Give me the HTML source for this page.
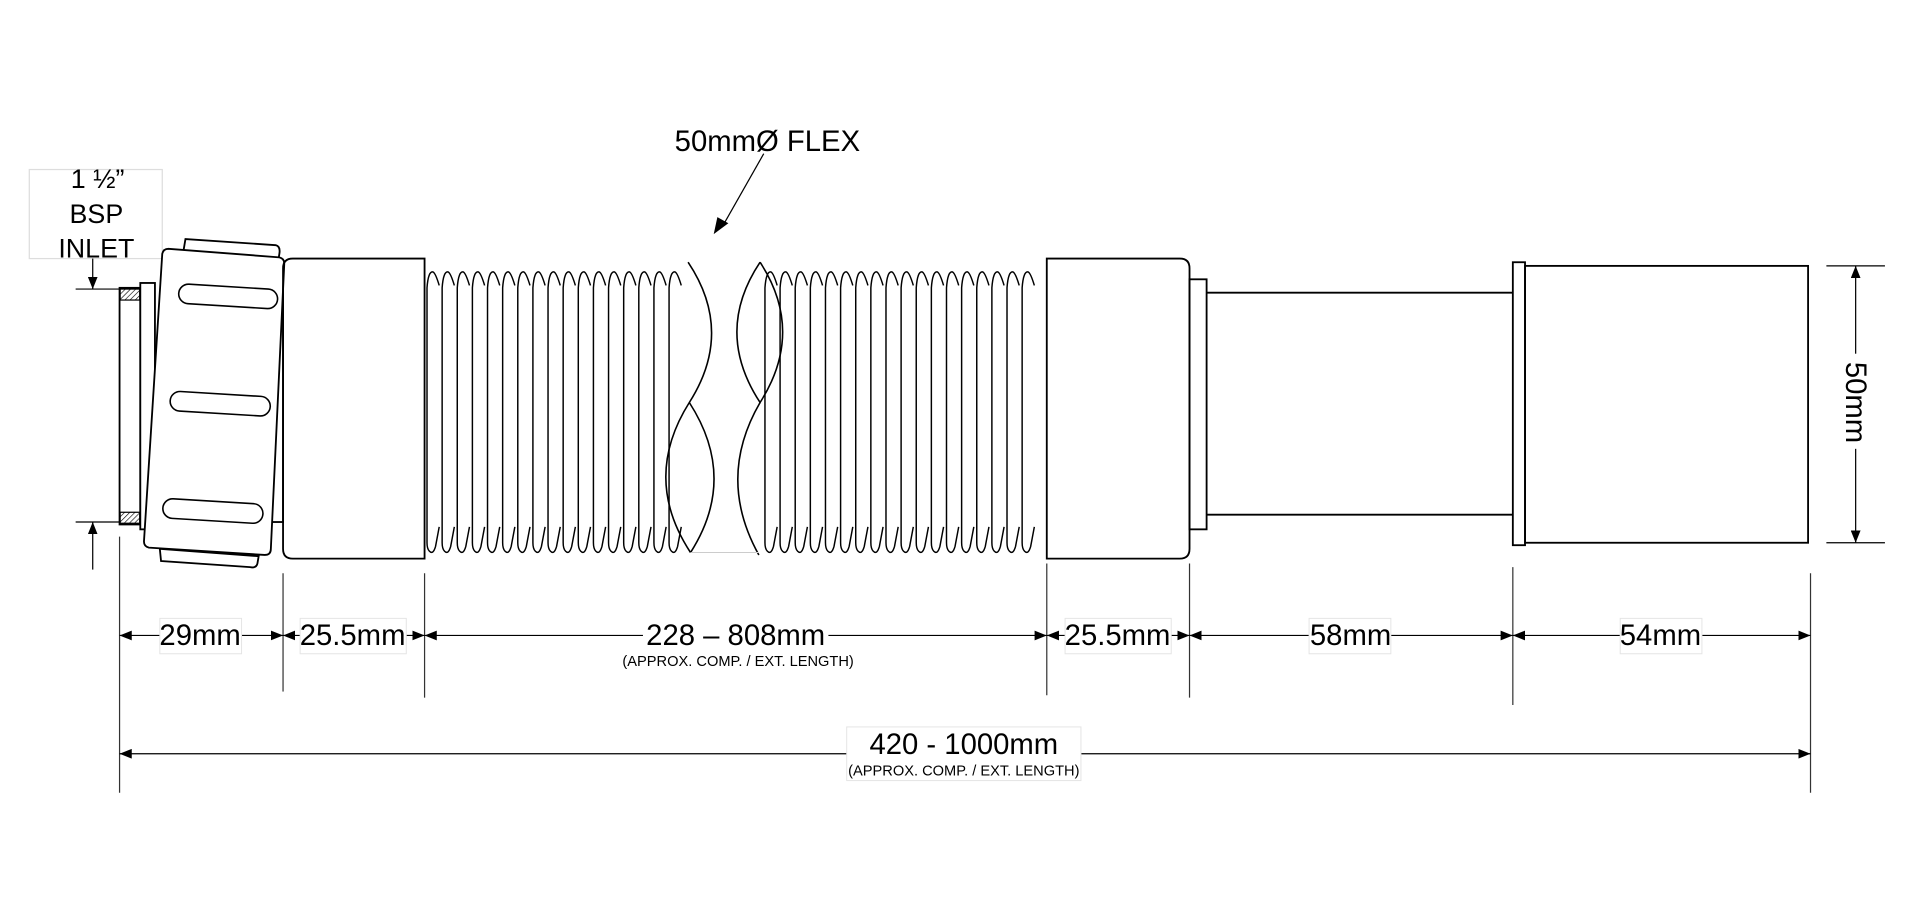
<!DOCTYPE html>
<html><head><meta charset="utf-8"><style>
html,body{margin:0;padding:0;background:#fff;width:1913px;height:905px;overflow:hidden}
svg{display:block}
text{font-family:"Liberation Sans",sans-serif;fill:#000}
</style></head><body>
<svg id="s" width="1913" height="905" viewBox="0 0 1568 742" preserveAspectRatio="none" xmlns="http://www.w3.org/2000/svg">
<defs>
<marker id="a" viewBox="0 0 10 8" refX="10" refY="4" markerWidth="10" markerHeight="8" markerUnits="userSpaceOnUse" orient="auto-start-reverse"><path d="M0,0L10,4L0,8z" fill="#000"/></marker>
<pattern id="h" width="3" height="3" patternUnits="userSpaceOnUse" patternTransform="rotate(45)"><line x1="0" y1="0" x2="0" y2="3" stroke="#000" stroke-width="1"/></pattern>
</defs>
<g fill="none" stroke="#000" stroke-width="1.5">
<line x1="626" y1="126" x2="592" y2="186" stroke-width="1"/>
<path d="M585,192 L588,178 L597,183z" fill="#000" stroke="none"/>
<rect x="24" y="139" width="109" height="73" stroke="#ddd" stroke-width="1"/>
<line x1="62" y1="237" x2="98" y2="237" stroke-width="1"/>
<line x1="62" y1="428" x2="98" y2="428" stroke-width="1"/>
<line x1="76" y1="212" x2="76" y2="237" stroke-width="1" marker-end="url(#a)"/>
<line x1="76" y1="467" x2="76" y2="428" stroke-width="1" marker-end="url(#a)"/>
<rect x="98" y="236" width="17" height="194"/>
<rect x="98.5" y="237" width="16" height="9" fill="url(#h)" stroke-width="1"/>
<rect x="98.5" y="420" width="16" height="9" fill="url(#h)" stroke-width="1"/>
<rect x="115" y="232" width="12" height="202" fill="#fff"/>
<path d="M152,196 L226,201 Q230,202 229,208 L228,214 L150,208 Z" fill="#fff"/>
<path d="M131,450 L212,456 L211,462 Q210,466 205,465 L132,460 Z" fill="#fff"/>
<rect x="220" y="213" width="12" height="215" fill="#fff"/>
<path d="M138,204 L229,211 Q233,212 233,216 L222,450 Q222,455 217,455 L122,449 Q118,448 118,444 L133,208 Q134,204 138,204 Z" fill="#fff"/>
<g stroke-width="1.3">
<path d="M155,233 L220,237 A8,8 0 0 1 219,253 L154,249 A8,8 0 0 1 155,233 Z"/>
<path d="M148,321 L214,325 A8,8 0 0 1 213,341 L147,337 A8,8 0 0 1 148,321 Z"/>
<path d="M142,409 L208,413 A8,8 0 0 1 207,429 L141,425 A8,8 0 0 1 142,409 Z"/>
</g>
<path d="M240,212 L348,212 L348,458 L240,458 Q232,458 232,450 L232,220 Q232,212 240,212 Z"/>
<g id="ribs" stroke-width="1.2"></g>
<g stroke-width="1.3">
<path d="M564,215 Q602,272 565,330 Q526,392 566,453"/>
<path d="M565,330 Q605,392 566,453"/>
<path d="M623,215 Q585,272 623,330 Q660,272 623,215"/>
<path d="M623,330 Q587,392 622,455"/>
<line x1="566" y1="453" x2="622" y2="453" stroke="#ccc" stroke-width="0.8"/>
</g>
<path d="M858,212 L967,212 Q975,212 975,220 L975,450 Q975,458 967,458 L858,458 Z" fill="#fff"/>
<rect x="975" y="229" width="14" height="205"/>
<line x1="989" y1="240" x2="1240" y2="240"/>
<line x1="989" y1="422" x2="1240" y2="422"/>
<rect x="1240" y="215" width="10" height="232"/>
<rect x="1250" y="218" width="232" height="227"/>
<g stroke-width="1">
<line x1="1497" y1="218" x2="1545" y2="218"/>
<line x1="1497" y1="445" x2="1545" y2="445"/>
<line x1="1521" y1="290" x2="1521" y2="218" marker-end="url(#a)"/>
<line x1="1521" y1="365" x2="1521" y2="445" marker-end="url(#a)"/>
</g>
<g stroke-width="1" stroke="#333">
<line x1="98" y1="440" x2="98" y2="650"/>
<line x1="232" y1="470" x2="232" y2="567"/>
<line x1="348" y1="470" x2="348" y2="572"/>
<line x1="858" y1="462" x2="858" y2="570"/>
<line x1="975" y1="462" x2="975" y2="572"/>
<line x1="1240" y1="465" x2="1240" y2="578"/>
<line x1="1484" y1="470" x2="1484" y2="650"/>
</g>
<g stroke-width="1">
<line x1="98" y1="521" x2="232" y2="521" marker-start="url(#a)" marker-end="url(#a)"/>
<line x1="232" y1="521" x2="348" y2="521" marker-start="url(#a)" marker-end="url(#a)"/>
<line x1="348" y1="521" x2="858" y2="521" marker-start="url(#a)" marker-end="url(#a)"/>
<line x1="858" y1="521" x2="975" y2="521" marker-start="url(#a)" marker-end="url(#a)"/>
<line x1="975" y1="521" x2="1240" y2="521" marker-start="url(#a)" marker-end="url(#a)"/>
<line x1="1240" y1="521" x2="1484" y2="521" marker-start="url(#a)" marker-end="url(#a)"/>
<line x1="98" y1="618" x2="1484" y2="618" marker-start="url(#a)" marker-end="url(#a)"/>
</g>
</g>
<g fill="#fff" stroke="#e4e4e4" stroke-width="0.8">
<rect x="131" y="507" width="67" height="29"/>
<rect x="246" y="507" width="87" height="29"/>
<rect x="527" y="507" width="152" height="29" stroke="none"/>
<rect x="873" y="507" width="87" height="29"/>
<rect x="1073" y="507" width="67" height="29"/>
<rect x="1328" y="507" width="67" height="29"/>
<rect x="694" y="596" width="192" height="44"/>
<rect x="1508" y="292" width="26" height="76" stroke="none"/>
</g>
<g font-size="24" text-anchor="middle">
<text x="629" y="124">50mmØ FLEX</text>
<text x="80" y="154" font-size="22">1 ½”</text>
<text x="79" y="183" font-size="22">BSP</text>
<text x="79" y="211" font-size="22">INLET</text>
<text x="164" y="529">29mm</text>
<text x="289" y="529">25.5mm</text>
<text x="603" y="529">228 – 808mm</text>
<text x="916" y="529">25.5mm</text>
<text x="1107" y="529">58mm</text>
<text x="1361" y="529">54mm</text>
<text x="790" y="618">420 - 1000mm</text>
<text x="605" y="546" font-size="12">(APPROX. COMP. / EXT. LENGTH)</text>
<text x="790" y="636" font-size="12">(APPROX. COMP. / EXT. LENGTH)</text>
<text transform="translate(1513,330) rotate(90)">50mm</text>
</g>
</svg>
<script>
var g=document.getElementById('ribs'),d='';
function rib(x){return 'M'+x+',445 L'+x+',236 Q'+(x+1)+',222 '+(x+5)+',223 Q'+(x+7)+',224 '+(x+10)+',234 M'+(x+10)+',432 L'+(x+7)+',448 Q'+(x+5)+',455 '+(x+2)+',452 Q'+x+',450 '+x+',445 ';}
for(var x=350;x<=560;x+=12.4)d+=rib(x.toFixed(1)*1);
for(var x=627;x<=848;x+=12.4)d+=rib(x.toFixed(1)*1);
var p=document.createElementNS('http://www.w3.org/2000/svg','path');p.setAttribute('d',d);g.appendChild(p);
</script>
</body></html>
